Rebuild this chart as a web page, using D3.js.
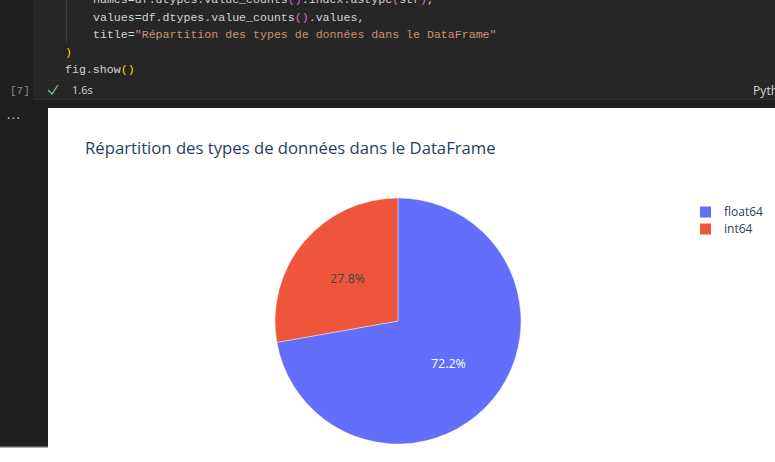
<!DOCTYPE html>
<html><head><meta charset="utf-8">
<script src="https://cdn.jsdelivr.net/npm/d3@7"></script>
<style>
html,body{margin:0;padding:0;background:#fff;overflow:hidden;}
svg{display:block;}
</style></head>
<body>
<svg id="c" width="775" height="462"></svg>
<script>
// ---- data ----
const categories = ["float64", "int64"];
const counts = [13, 5];
const colors = ["#636efa", "#EF553B"];
const textColors = ["#ffffff", "#444444"];
const chartTitle = "Répartition des types de données dans le DataFrame";

// code cell lines: arrays of [text, color]
const codeLines = [
  [["names=df.dtypes.value_counts", "#d4d4d4"], ["()", "#da70d6"], [".index.astype", "#d4d4d4"], ["(", "#da70d6"], ["str", "#d4d4d4"], [")", "#da70d6"], [",", "#d4d4d4"]],
  [["values=df.dtypes.value_counts", "#d4d4d4"], ["()", "#da70d6"], [".values,", "#d4d4d4"]],
  [["title=", "#d4d4d4"], ["\"Répartition des types de données dans le DataFrame\"", "#ce9178"]],
  [[")", "#ffd700"]],
  [["fig.show", "#d4d4d4"], ["()", "#ffd700"]]
];
const codeIndent = [1, 1, 1, 0, 0];

const svg = d3.select("#c");
const W = 775, H = 462;

// ---- notebook chrome ----
svg.append("rect").attr("x",0).attr("y",0).attr("width",W).attr("height",H).attr("fill","#ffffff");
svg.append("rect").attr("x",0).attr("y",0).attr("width",W).attr("height",108).attr("fill","#1f1f1f");
svg.append("rect").attr("x",0).attr("y",108).attr("width",48).attr("height",338).attr("fill","#1f1f1f");
svg.append("rect").attr("x",0).attr("y",446).attr("width",48).attr("height",1.5).attr("fill","#5a5a5a");
// cell
svg.append("rect").attr("x",33).attr("y",0).attr("width",W-33).attr("height",99).attr("fill","#262626");
svg.append("rect").attr("x",33).attr("y",99).attr("width",W-33).attr("height",1).attr("fill","#2e2e2e");
svg.append("rect").attr("x",33).attr("y",80).attr("width",W-33).attr("height",1).attr("fill","#2a2a2a");
// indent guide
svg.append("rect").attr("x",66).attr("y",0).attr("width",1).attr("height",42).attr("fill","#404040");

const mono = "'Liberation Mono','DejaVu Sans Mono',monospace";
const codeG = svg.append("g").attr("font-family", mono).attr("font-size", "11.6px");
codeLines.forEach((line, i) => {
  const t = codeG.append("text")
    .attr("x", codeIndent[i] ? 93 : 65)
    .attr("y", 3 + i * 17.5)
    .attr("xml:space", "preserve");
  line.forEach(([s, c]) => t.append("tspan").attr("fill", c).text(s));
});

svg.append("text").attr("x",10).attr("y",94).attr("font-family",mono).attr("font-size","11px").attr("fill","#8a8a8a").text("[7]");
svg.append("path").attr("d","M48,90 L52,94 L58,85").attr("fill","none").attr("stroke","#73c991").attr("stroke-width",1.3);
svg.append("text").attr("x",72).attr("y",94).attr("font-family","'Noto Sans',sans-serif").attr("font-size","11px").attr("fill","#cccccc").text("1.6s");
svg.append("text").attr("x",753).attr("y",95).attr("font-family","'Noto Sans',sans-serif").attr("font-size","12px").attr("fill","#cccccc").text("Python");
svg.append("text").attr("x",7).attr("y",119).attr("font-family","'Noto Sans',sans-serif").attr("font-size","12px").attr("fill","#cccccc").attr("letter-spacing","1.5px").text("...");

// ---- plot ----
const font = "'Open Sans', verdana, arial, sans-serif";
svg.append("text").attr("x",85).attr("y",154).attr("font-family",font).attr("font-size","16.7px").attr("fill","#2a3f5f").text(chartTitle);

const cx = 398, cy = 321, R = 123;
const data = categories.map((c, i) => ({cat: c, value: counts[i], color: colors[i], tc: textColors[i]}));
const pie = d3.pie().sort(null).value(d => d.value).startAngle(0).endAngle(2 * Math.PI);
const arcs = pie(data);
const arc = d3.arc().innerRadius(0).outerRadius(R);
const labelArc = d3.arc().innerRadius(R * 1.07).outerRadius(0);
const total = d3.sum(counts);
const pg = svg.append("g").attr("transform", `translate(${cx},${cy})`);
pg.selectAll("path").data(arcs).join("path")
  .attr("d", arc).attr("fill", d => d.data.color)
  .attr("stroke", "#ffffff").attr("stroke-width", 0.4);
pg.selectAll("text").data(arcs).join("text")
  .attr("transform", d => `translate(${labelArc.centroid(d)})`)
  .attr("text-anchor", "middle").attr("dy", "0.35em")
  .attr("font-family", font).attr("font-size", "12.5px")
  .attr("fill", d => d.data.tc)
  .text(d => (d.data.value / total * 100).toFixed(1) + "%");

// legend
const lg = svg.append("g").attr("transform", "translate(700,212)");
const items = lg.selectAll("g").data(data).join("g").attr("transform", (d, i) => `translate(0,${i * 17})`);
items.append("rect").attr("x", 0).attr("y", -5.5).attr("width", 11).attr("height", 11).attr("fill", d => d.color);
items.append("text").attr("x", 24).attr("y", 0).attr("dy", "0.35em")
  .attr("font-family", font).attr("font-size", "12px").attr("fill", "#2a3f5f").text(d => d.cat);
</script>
</body></html>
